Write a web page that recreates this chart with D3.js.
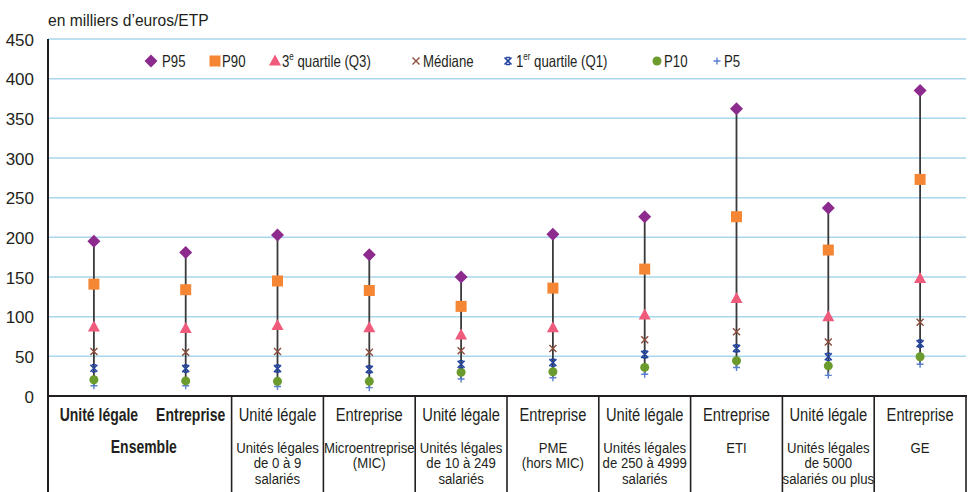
<!DOCTYPE html>
<html><head><meta charset="utf-8">
<script src="https://cdn.jsdelivr.net/npm/d3@7"></script>
<style>
html,body{margin:0;padding:0;background:#fff;}
svg text{font-family:"Liberation Sans",Arial,sans-serif;fill:#231f20;}
</style></head>
<body>
<svg id="c" width="969" height="492"></svg>
<script>
const categories = ["UL_ens","ENT_ens","UL_0_9","MIC","UL_10_249","PME","UL_250_4999","ETI","UL_5000","GE"];
const row1Labels = ["Unité légale","Entreprise","Unité légale","Entreprise","Unité légale","Entreprise","Unité légale","Entreprise","Unité légale","Entreprise"];
const row2Labels = [null,null,["Unités légales","de 0 à 9","salariés"],["Microentreprise","(MIC)"],["Unités légales","de 10 à 249","salariés"],["PME","(hors MIC)"],["Unités légales","de 250 à  4999","salariés"],["ETI"],["Unités légales","de 5000","salariés ou plus"],["GE"]];
const groupLabel = "Ensemble";
const p95 = [195,181,203,178,150,204,226,362,237,385];
const p90 = [141,134,145,133,113,136,160,226,184,273];
const q3  = [87,85,89,86,77,86,102,123,100,148];
const med = [56,55,56,55,57,60,71,81,68,93];
const q1  = [35,34.5,34.5,33.5,40,42,52.5,60,49.5,66];
const p10 = [20.5,19,18.5,18.5,30,30.5,36,44.5,38,49.5];
const p5  = [13,13,12,10.5,21.5,23,27.5,36,26,40];
const yTicks = [0,50,100,150,200,250,300,350,400,450];
const unitLabel = "en milliers d’euros/ETP";

const series = [
  {key:"P95", vals:p95, color:"#8c2a8d", shape:"diamond"},
  {key:"P90", vals:p90, color:"#f58634", shape:"square"},
  {key:"3e quartile (Q3)", vals:q3, color:"#f05a7b", shape:"triangle"},
  {key:"Médiane", vals:med, color:"#8a4b3b", shape:"x"},
  {key:"1er quartile (Q1)", vals:q1, color:"#23449e", shape:"star"},
  {key:"P10", vals:p10, color:"#6a9b2c", shape:"circle"},
  {key:"P5", vals:p5, color:"#5a7fcf", shape:"plus"}
];

const svg = d3.select("#c");
const L = 48, R = 966, T = 39, B = 396;
const x = d3.scaleBand().domain(categories).range([L,R]).padding(0);
const y = d3.scaleLinear().domain([0,450]).range([B,T]);

function ctext(g, tx, ty, str, size, sx, opts){
  opts = opts||{};
  return g.append("text")
    .attr("transform",`translate(${tx},${ty}) scale(${sx},1)`)
    .attr("font-size",size)
    .attr("text-anchor",opts.anchor||"start")
    .attr("font-weight",opts.bold?"bold":"normal")
    .text(str);
}

// gridlines
svg.append("g").selectAll("line").data(yTicks.filter(d=>d>0)).join("line")
  .attr("x1",L).attr("x2",R).attr("y1",d=>y(d)).attr("y2",d=>y(d))
  .attr("stroke","#a9d7ee").attr("stroke-width",1.5);

// y axis
const yAxis = d3.axisLeft(y).tickValues(yTicks).tickSize(0).tickPadding(14);
const ga = svg.append("g").attr("transform",`translate(${L},0)`).call(yAxis);
ga.select(".domain").remove();
ga.selectAll("text").attr("font-size",17).attr("font-family","Liberation Sans, Arial, sans-serif").attr("dy","0.36em").style("fill","#231f20");
svg.append("line").attr("x1",L).attr("x2",L).attr("y1",T).attr("y2",492).attr("stroke","#231f20").attr("stroke-width",2);

// unit label
ctext(svg, 48, 26, unitLabel, 17, 0.92);

// vertical lines
svg.append("g").selectAll("line").data(categories).join("line")
  .attr("x1",d=>x(d)+x.bandwidth()/2).attr("x2",d=>x(d)+x.bandwidth()/2)
  .attr("y1",(d,i)=>y(p5[i])).attr("y2",(d,i)=>y(p95[i]))
  .attr("stroke","#3a3a3a").attr("stroke-width",1.8);

function marker(g, shape, color, cx, cy){
  if(shape==="diamond") g.append("path").attr("d",`M${cx},${cy-6.5}L${cx+6.5},${cy}L${cx},${cy+6.5}L${cx-6.5},${cy}Z`).attr("fill",color);
  else if(shape==="square") g.append("rect").attr("x",cx-5.5).attr("y",cy-5.5).attr("width",11).attr("height",11).attr("fill",color);
  else if(shape==="triangle") g.append("path").attr("d",`M${cx},${cy-6.5}L${cx+6},${cy+4.5}L${cx-6},${cy+4.5}Z`).attr("fill",color);
  else if(shape==="x") g.append("path").attr("d",`M${cx-3.5},${cy-3.5}L${cx+3.5},${cy+3.5}M${cx-3.5},${cy+3.5}L${cx+3.5},${cy-3.5}`).attr("stroke",color).attr("stroke-width",1.4);
  else if(shape==="star") g.append("path").attr("d",`M${cx-3.5},${cy-3.5}L${cx+3.5},${cy+3.5}M${cx-3.5},${cy+3.5}L${cx+3.5},${cy-3.5}M${cx-2},${cy-3.5}L${cx+2},${cy-3.5}M${cx-2},${cy+3.5}L${cx+2},${cy+3.5}`).attr("stroke",color).attr("stroke-width",1.6);
  else if(shape==="circle") g.append("circle").attr("cx",cx).attr("cy",cy).attr("r",4.5).attr("fill",color);
  else if(shape==="plus") g.append("path").attr("d",`M${cx-3.5},${cy}L${cx+3.5},${cy}M${cx},${cy-3.5}L${cx},${cy+3.5}`).attr("stroke",color).attr("stroke-width",1.4);
}

// markers
const mg = svg.append("g");
series.slice().reverse().forEach(s=>{
  categories.forEach((c,i)=>{
    marker(mg, s.shape, s.color, x(c)+x.bandwidth()/2, y(s.vals[i]));
  });
});

// legend
const legendPos = [[151,162],[215,222],[275,282],[416,423],[508,516],[657,664],[717,724]];
const lg = svg.append("g");
series.forEach((s,i)=>{
  const [mx,tx] = legendPos[i];
  marker(lg, s.shape, s.color, mx, 61);
  const t = lg.append("text").attr("transform",`translate(${tx},66.5) scale(0.8,1)`).attr("font-size",16.5);
  if(s.key.startsWith("3e")){
    t.append("tspan").text("3");
    t.append("tspan").attr("font-size",10).attr("dy",-6.5).text("e");
    t.append("tspan").attr("dy",6.5).text(" quartile (Q3)");
  } else if(s.key.startsWith("1er")){
    t.append("tspan").text("1");
    t.append("tspan").attr("font-size",10).attr("dy",-6.5).text("er");
    t.append("tspan").attr("dy",6.5).text(" quartile (Q1)");
  } else t.text(s.key);
});

// bottom table
svg.append("line").attr("x1",L).attr("x2",R+1).attr("y1",B).attr("y2",B).attr("stroke","#231f20").attr("stroke-width",2.2);
const seps = categories.slice(2).map(c=>x(c)).concat([R]);
svg.append("g").selectAll("line").data(seps).join("line")
  .attr("x1",d=>d).attr("x2",d=>d).attr("y1",B).attr("y2",492)
  .attr("stroke","#231f20").attr("stroke-width",1.6);

const tg = svg.append("g");
categories.forEach((c,i)=>{
  const cx = x(c)+x.bandwidth()/2;
  const bold = i<2;
  ctext(tg, cx + (bold?5:0), 421, row1Labels[i], 17.5, bold?0.8:0.84, {anchor:"middle", bold:bold});
  const lines = row2Labels[i];
  if(lines){
    lines.forEach((ln,j)=>{
      ctext(tg, cx, 452.5+j*15.5, ln, 15.5, 0.85, {anchor:"middle"});
    });
  }
});
ctext(tg, x(categories[1])+4, 453, groupLabel, 17.5, 0.8, {anchor:"middle", bold:true});
</script>
</body></html>
